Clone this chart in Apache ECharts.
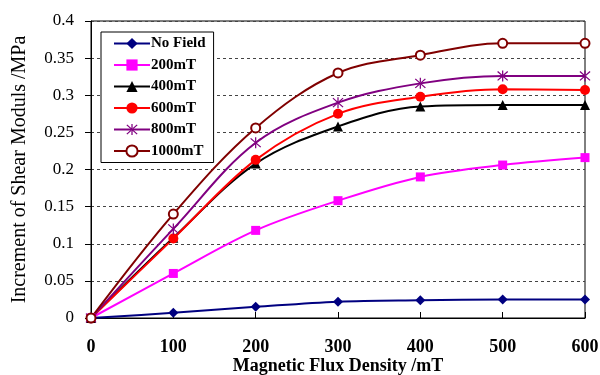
<!DOCTYPE html>
<html>
<head>
<meta charset="utf-8">
<script src="https://cdn.jsdelivr.net/npm/echarts@6/dist/echarts.min.js"></script>
<style>
  html, body { margin: 0; padding: 0; background: #fff; }
  #main { width: 600px; height: 375px; }
</style>
</head>
<body>
<div id="main"></div>
<script>
// data
var fieldX = [0, 100, 200, 300, 400, 500, 600]
var seriesNames = ['No Field', '200mT', '400mT', '600mT', '800mT', '1000mT']
var noField = [0, 0.007, 0.015, 0.022, 0.024, 0.025, 0.025]
var mT200 = [0, 0.060, 0.118, 0.158, 0.190, 0.206, 0.216]
var mT400 = [0, 0.108, 0.208, 0.258, 0.285, 0.287, 0.287]
var mT600 = [0, 0.107, 0.213, 0.275, 0.298, 0.308, 0.307]
var mT800 = [0, 0.120, 0.236, 0.290, 0.316, 0.326, 0.326]
var mT1000 = [0, 0.140, 0.256, 0.330, 0.354, 0.370, 0.370]

var font = 'Liberation Serif, Times New Roman, serif'
var asterisk = 'path://M4.5,0h1v10h-1z M0.6,1.3l0.7,-0.7l8.1,8.1l-0.7,0.7z M9.4,1.3l-0.7,-0.7l-8.1,8.1l0.7,0.7z'

var styles = [
  { color: '#000080', symbol: 'diamond', size: 10 },
  { color: '#ff00ff', symbol: 'rect', size: 9 },
  { color: '#000000', symbol: 'triangle', size: 10 },
  { color: '#ff0000', symbol: 'circle', size: 10 },
  { color: '#800080', symbol: asterisk, size: 11 },
  { color: '#800000', symbol: 'emptyCircle', size: 9 }
]
var allValues = [noField, mT200, mT400, mT600, mT800, mT1000]

function pairs (vals) {
  var out = []
  for (let i = 0; i < fieldX.length; i++) {
    out.push([fieldX[i], vals[i]])
  }
  return out
}

var seriesObj = []
for (let i = 0; i < seriesNames.length; i++) {
  var s = styles[i]
  seriesObj.push({
    name: seriesNames[i],
    type: 'line',
    smooth: 0.35,
    symbol: s.symbol,
    symbolSize: s.size,
    showAllSymbol: true,
    lineStyle: { color: s.color, width: 2 },
    itemStyle: { color: s.color, borderColor: s.color, borderWidth: s.symbol === 'emptyCircle' ? 1.2 : 0 },
    emphasis: { disabled: true },
    data: pairs(allValues[i])
  })
}

var myChart = echarts.init(document.getElementById('main'))

var option = {
  backgroundColor: '#fff',
  animation: false,
  grid: {
    left: 91,
    right: 15,
    top: 21,
    bottom: 57,
    outerBoundsMode: 'none',
    show: true,
    borderColor: '#000',
    borderWidth: 1
  },
  legend: {
    orient: 'vertical',
    left: 101,
    top: 32,
    padding: [4, 8, 4, 12],
    itemGap: 6.5,
    itemWidth: 36,
    itemHeight: 14,
    borderColor: '#000',
    borderWidth: 1,
    backgroundColor: '#fff',
    textStyle: { fontFamily: font, fontSize: 15, fontWeight: 'bold', color: '#000', padding: [0, 0, 0, -4] },
    data: seriesNames
  },
  xAxis: {
    type: 'value',
    min: 0,
    max: 600,
    interval: 100,
    name: 'Magnetic Flux Density /mT',
    nameLocation: 'middle',
    nameGap: 39,
    nameMoveOverlap: false,
    nameTextStyle: { fontFamily: font, fontSize: 18, fontWeight: 'bold', color: '#000' },
    axisLine: { lineStyle: { color: '#000', width: 1 } },
    axisTick: { inside: true, length: 6, lineStyle: { color: '#000' } },
    axisLabel: { fontFamily: font, fontSize: 18, fontWeight: 'bold', color: '#000', margin: 20 },
    splitLine: { show: false }
  },
  yAxis: {
    type: 'value',
    min: 0,
    max: 0.4,
    interval: 0.05,
    name: 'Increment of Shear Moduls /MPa',
    nameLocation: 'middle',
    nameGap: 61,
    nameMoveOverlap: false,
    nameTextStyle: { fontFamily: font, fontSize: 20, color: '#000' },
    axisLine: { show: true, lineStyle: { color: '#000', width: 1 } },
    axisTick: { show: true, length: 6, lineStyle: { color: '#000' } },
    axisLabel: { fontFamily: font, fontSize: 17, color: '#000', margin: 17 },
    splitLine: { show: true, lineStyle: { color: '#444', width: 1, type: [3, 3] } }
  },
  series: seriesObj
}

myChart.setOption(option, true)
</script>
</body>
</html>
